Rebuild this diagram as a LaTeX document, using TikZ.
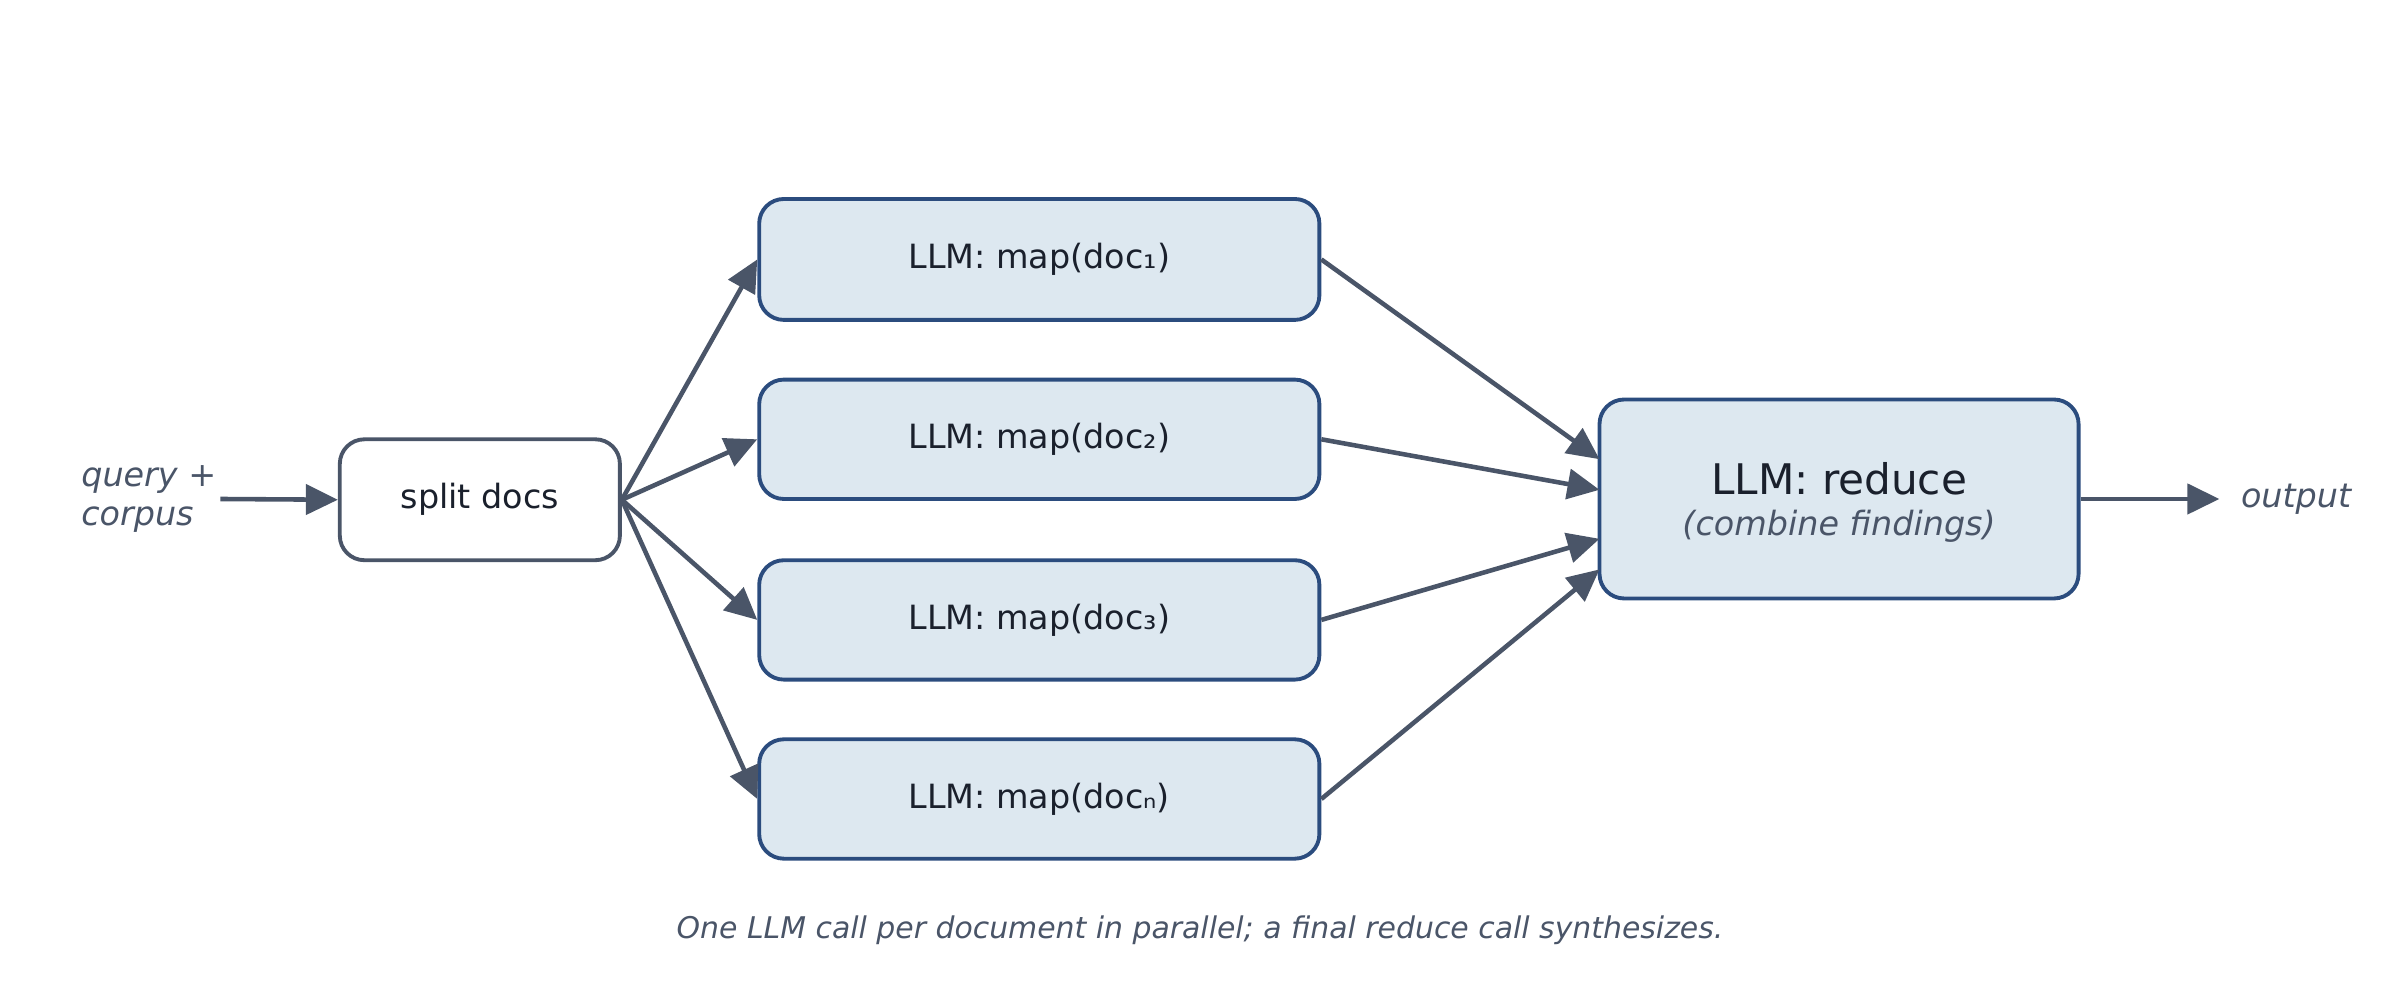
\documentclass[tikz,border=0pt]{standalone}
\usepackage{fontspec}
\setmainfont{DejaVu Sans}
\usetikzlibrary{arrows.meta,calc}
\definecolor{boxfill}{HTML}{DDE8F0}
\definecolor{boxline}{HTML}{2B4C7E}
\definecolor{arr}{HTML}{4A5568}
\definecolor{txt}{HTML}{1A202C}
\tikzset{
  box/.style={draw=boxline,fill=boxfill,line width=1.1pt,rounded corners=7pt,inner sep=0pt,text=txt,font=\fontsize{9.5}{11}\selectfont},
  plain/.style={draw=arr,fill=white,line width=1.1pt,rounded corners=7pt,inner sep=0pt,text=txt,font=\fontsize{9.5}{11}\selectfont},
  con/.style={draw=arr,line width=1.3pt,-{Triangle[length=0.32cm,width=0.3cm]}},
  lab/.style={text=arr,font=\itshape\fontsize{9.5}{11}\selectfont}
}
\begin{document}
\begin{tikzpicture}[x=0.01531cm,y=-0.01531cm]
\useasboundingbox (0,0) rectangle (1568,653);
\node[plain,minimum width=183*0.01531cm,minimum height=79*0.01531cm] (split) at (313.5,326.5) {split docs};
\node[box,minimum width=366*0.01531cm,minimum height=79*0.01531cm] (m1) at (679,169.5) {LLM: map(doc₁)};
\node[box,minimum width=366*0.01531cm,minimum height=78*0.01531cm] (m2) at (679,287) {LLM: map(doc₂)};
\node[box,minimum width=366*0.01531cm,minimum height=78*0.01531cm] (m3) at (679,405) {LLM: map(doc₃)};
\node[box,minimum width=366*0.01531cm,minimum height=78*0.01531cm] (m4) at (679,522) {LLM: map(docₙ)};
\node[box,minimum width=313*0.01531cm,minimum height=130*0.01531cm] (red) at (1201.5,326) {};
\node[text=txt,font=\fontsize{12}{14}\selectfont] (rt) at (1201.5,313) {LLM: reduce};
\node[lab] (rs) at (1201.5,344) {(combine findings)};
\node[lab,align=left,anchor=west] (q) at (45,326) {query +\\corpus};
\node[lab,anchor=west] (out) at (1456,326) {output};
\coordinate (qs) at (144,326);
\coordinate (oe) at (1450,326);
\coordinate (r1) at (1045,300);
\coordinate (r2) at (1045,320);
\coordinate (r3) at (1045,352);
\coordinate (r4) at (1045,372);
\draw[con] (qs) -- (split.west);
\draw[con] (split.east) -- (m1.west);
\draw[con] (split.east) -- (m2.west);
\draw[con] (split.east) -- (m3.west);
\draw[con] (split.east) -- (m4.west);
\draw[con] (m1.east) -- (r1);
\draw[con] (m2.east) -- (r2);
\draw[con] (m3.east) -- (r3);
\draw[con] (m4.east) -- (r4);
\draw[con] (red.east) -- (oe);
\node[lab,font=\itshape\fontsize{8.5}{10}\selectfont] (cap) at (784,608) {One LLM call per document in parallel; a final reduce call synthesizes.};
\end{tikzpicture}
\end{document}
